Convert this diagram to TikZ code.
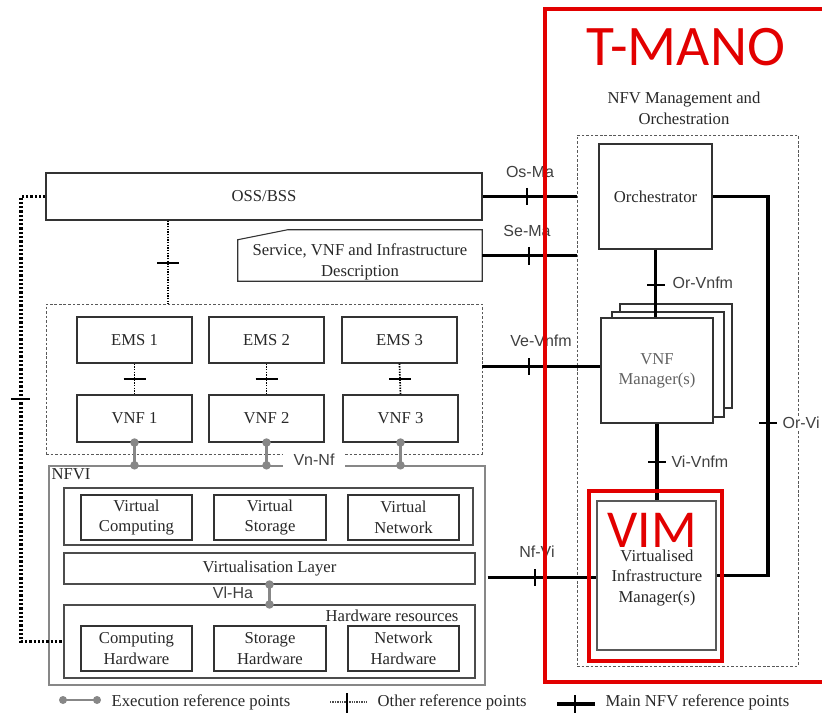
\documentclass[tikz,border=0pt]{standalone}
\usepackage{fontspec}
\setmainfont{Liberation Serif}
\newfontfamily\refsans{Liberation Sans}
\newfontfamily\bannersans{Carlito}
\usetikzlibrary{fit,calc}
\definecolor{markred}{RGB}{226,0,0}
\definecolor{linegray}{RGB}{135,135,135}
\definecolor{textdark}{RGB}{40,40,40}
\newcommand\diagfont{\fontsize{12.5}{15.5}\selectfont}
\newcommand\reffont{\refsans\fontsize{12}{14}\selectfont}

\begin{document}
\begin{tikzpicture}[x=0.75pt,y=-0.75pt,
  box/.style={draw=black!80, line width=0.8pt, fill=white, inner sep=0pt},
  layer/.style={draw=black!70, line width=0.8pt, inner sep=0pt},
  group/.style={draw=black!65, line width=0.7pt, dash pattern=on 2pt off 1.4pt, inner sep=0pt},
  inside/.style={label={[txt]center:#1}},
  txt/.style={font=\diagfont, text=textdark, align=center, inner sep=1pt},
  reflabel/.style={font=\reffont, text=black!75, inner sep=1pt},
  mainref/.style={line width=2.4pt, black},
  tickmark/.style={line width=1.4pt, black},
  othref/.style={line width=1.3pt, black, dash pattern=on 1pt off 1pt},
  mgmtdots/.style={line width=2.4pt, black, dash pattern=on 1.7pt off 1.5pt},
  execref/.style={line width=1.6pt, linegray},
  execdot/.style={fill=linegray},
  redmark/.style={draw=markred, line width=2.3pt},
]
\fill[white] (0,0) rectangle (822,713);
\useasboundingbox (0,0) rectangle (822,713);

% ---------- left side: OSS/BSS, descriptions, EMS/VNF ----------
\node[box, fit={(46,173) (482,220)}, inside={OSS/BSS}] (oss) {};

\node[inner sep=0pt, fit={(238,230) (482,281)}] (desc) {};
\draw[draw=black!80, line width=0.8pt] (desc.south west) -- ($(desc.north west)+(0,10)$)
  -- ($(desc.north west)+(50,0)$) -- (desc.north east) -- (desc.south east) -- cycle;
\node[txt] (desctext) at (360,262) {Service, VNF and Infrastructure\\Description};

\node[group, fit={(46,304) (482,454)}] (emsgrp) {};
\node[box, fit={(77,317) (192,363)}, inside={EMS 1}] (ems1) {};
\node[box, fit={(209,317) (324,363)}, inside={EMS 2}] (ems2) {};
\node[box, fit={(342,317) (457,363)}, inside={EMS 3}] (ems3) {};
\node[box, fit={(77,395) (192,442)}, inside={VNF 1}] (vnf1) {};
\node[box, fit={(209,395) (324,442)}, inside={VNF 2}] (vnf2) {};
\node[box, fit={(343,395) (458,442)}, inside={VNF 3}] (vnf3) {};

% ---------- NFVI ----------
\node[draw=linegray, line width=1pt, inner sep=0pt, fit={(49,466) (485,685)}] (nfvi) {};
\node[txt, anchor=north west] (nfvilabel) at (50,467) {NFVI};
\node[layer, fit={(64,488) (473,545)}] (vres) {};
\node[box, fit={(81,495) (192,540)}, inside={Virtual\\Computing}] (vc) {};
\node[box, fit={(214,495) (326,540)}, inside={Virtual\\Storage}] (vs) {};
\node[box, fit={(348,495) (459,540)}, inside={Virtual\\Network}] (vn) {};
\node[layer, fit={(64,553) (475,584)}, inside={Virtualisation Layer}] (vlayer) {};
\node[layer, fit={(64,605) (475,678)}] (hwres) {};
\node[txt] (hwlabel) at (392,616) {Hardware resources};
\node[box, fit={(81,626) (192,671)}, inside={Computing\\Hardware}] (ch) {};
\node[box, fit={(214,626) (326,671)}, inside={Storage\\Hardware}] (sh) {};
\node[box, fit={(348,626) (459,671)}, inside={Network\\Hardware}] (nh) {};

% ---------- NFV MANO ----------
\node[group, fit={(577,135) (798,666)}] (mano) {};
\node[txt] (manotitle) at (684,108) {NFV Management and\\Orchestration};
\node[box, fit={(599,144) (712,249)}, inside={Orchestrator}] (orch) {};
\node[box, fit={(620,304) (732,408)}] (vnfmback2) {};
\node[box, fit={(612,312) (724,417)}] (vnfmback1) {};
\node[box, fit={(601,318) (713,423)}] (vnfm) {};
\node[txt, text=black!62] (vnfmtext) at (657,371) {VNF\\Manager(s)};
\node[box, draw=black!65, fit={(597,501) (716,650)}] (vim) {};
\node[txt] (vimtext) at (657,578) {Virtualised\\Infrastructure\\Manager(s)};

% ---------- main NFV reference points ----------
\draw[mainref] (oss.east) -- (oss.east -| mano.west);
\draw[tickmark] (527,188) -- (527,205);
\node[reflabel] (osma) at (530,172) {Os-Ma};

\draw[mainref] (desc.east) -- (desc.east -| mano.west);
\draw[tickmark] (529,247) -- (529,265);
\node[reflabel] (sema) at (527,231) {Se-Ma};

\draw[mainref] ($(vnfm.west -| emsgrp.east)+(0,-4)$) -- ($(vnfm.west)+(0,-4)$);
\draw[tickmark] (529,358) -- (529,375);
\node[reflabel] (vevnfm) at (541,341) {Ve-Vnfm};

\draw[mainref] ($(vim.west -| nfvi.east)+(2,2)$) -- ($(vim.west)+(0,2)$);
\draw[tickmark] (535,569) -- (535,586);
\node[reflabel] (nfvi-ref) at (537,552) {Nf-Vi};

\draw[mainref] (orch.south) -- (orch.south |- vnfm.north);
\draw[tickmark] (647,285) -- (665,285);
\node[reflabel, anchor=west] (orvnfm) at (671,283) {Or-Vnfm};

\draw[mainref] (vnfm.south) -- (vnfm.south |- vim.north);
\draw[tickmark] (648,462) -- (666,462);
\node[reflabel, anchor=west] (vivnfm) at (670,462) {Vi-Vnfm};

\coordinate (orvirail) at (768,400);
\draw[mainref] (orch.east) -- (orch.east -| orvirail) -- (vim.east -| orvirail) -- (vim.east);
\draw[tickmark] (759,423) -- (777,423);
\node[reflabel, anchor=west, fill=white] (orvi) at (781,423) {Or-Vi};

% ---------- other reference points ----------
\coordinate (ossdrop) at (168,0);
\draw[othref] (oss.south -| ossdrop) -- (emsgrp.north -| ossdrop);
\draw[tickmark] (157,263) -- (179,263);

\coordinate (leftrail) at (21,0);
\draw[mgmtdots] (oss.west) -- (oss.west -| leftrail) -- (hwres.west -| leftrail) -- (hwres.west);
\draw[tickmark] (11,399) -- (30,399);

\foreach \i in {1,2,3}{
  \draw[othref] (ems\i.south) -- (vnf\i.north);
  \draw[tickmark] ($(ems\i.south)!0.5!(vnf\i.north)+(-11,0)$) -- ($(ems\i.south)!0.5!(vnf\i.north)+(11,0)$);
}

% ---------- execution reference points ----------
\foreach \i in {1,2,3}{
  \draw[execref] (vnf\i.south) -- (vnf\i.south |- nfvi.north);
  \fill[execdot] (vnf\i.south) circle (3.2pt);
  \fill[execdot] (vnf\i.south |- nfvi.north) circle (3.2pt);
}
\node[reflabel, fill=white, inner xsep=8pt, inner ysep=2pt] (vnnf) at (314,460) {Vn-Nf};

\draw[execref] (vlayer.south) -- (vlayer.south |- hwres.north);
\fill[execdot] (vlayer.south) circle (3.2pt);
\fill[execdot] (vlayer.south |- hwres.north) circle (3.2pt);
\node[reflabel] (vlha) at (233,593) {Vl-Ha};

% ---------- legend ----------
\coordinate (lgexa) at (63,700);
\coordinate (lgexb) at (97,700);
\draw[execref] (lgexa) -- (lgexb);
\fill[execdot] (lgexa) circle (3pt);
\fill[execdot] (lgexb) circle (3pt);
\node[txt, anchor=west] (lgextext) at (110,702) {Execution reference points};

\coordinate (lgota) at (330,702);
\coordinate (lgotb) at (367,702);
\draw[line width=0.8pt, black!70, dash pattern=on 1pt off 0.8pt] (lgota) -- (lgotb);
\draw[tickmark] (347,693) -- (347,713);
\node[txt, anchor=west] (lgottext) at (376,702) {Other reference points};

\coordinate (lgmna) at (557,704);
\coordinate (lgmnb) at (595,704);
\draw[mainref] (lgmna) -- (lgmnb);
\draw[tickmark] (575,695) -- (575,713);
\node[txt, anchor=west] (lgmntext) at (604,702) {Main NFV reference points};

% ---------- highlight marks ----------
\draw[redmark] (824,9) -- (545,9) -- (545,682) -- (824,682);
\node[redmark, inner sep=0pt, fit={(589,491) (722,661)}] (vimmark) {};
\node[text=markred, font=\bannersans\fontsize{43}{45}\selectfont, inner sep=0pt] (tmano) at (686,47) {T-MANO};
\node[text=markred, font=\bannersans\fontsize{40}{42}\selectfont, inner sep=0pt] (vimtag) at (652,530) {VIM};
\end{tikzpicture}
\end{document}
